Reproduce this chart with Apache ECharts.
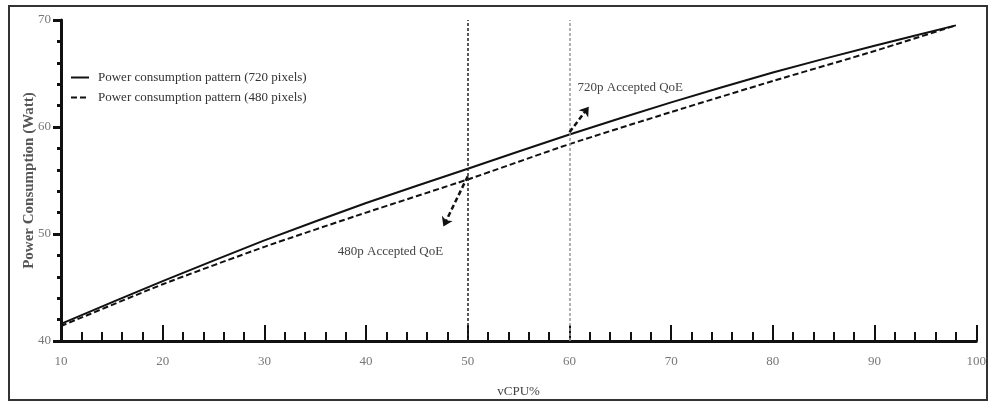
<!DOCTYPE html>
<html>
<head>
<meta charset="utf-8">
<script src="https://cdn.jsdelivr.net/npm/echarts@6/dist/echarts.min.js"></script>
<style>html,body{margin:0;padding:0;background:#fff}#c{width:989px;height:403px}</style>
</head>
<body>
<div id="c"></div>
<script>
// Data
const xValues = [10, 20, 30, 40, 50, 60, 70, 80, 90, 98];
const power720 = [41.6, 45.6, 49.4, 52.9, 56.1, 59.3, 62.3, 65.1, 67.6, 69.5];
const power480 = [41.4, 45.3, 48.8, 52.0, 55.1, 58.4, 61.4, 64.3, 67.1, 69.5];
const seriesNames = ['Power consumption pattern (720 pixels)', 'Power consumption pattern (480 pixels)'];
const qoeLines = [50, 60];
// annotation arrows: [from, to] in data coords
const arrow480 = [[50, 55.4], [47.6, 50.7]];
const arrow720 = [[60, 59.5], [61.9, 61.9]];
const label480 = {text: '480p Accepted QoE', at: [42.4, 48.4]};
const label720 = {text: '720p Accepted QoE', at: [60.8, 63.7]};

const FONT = 'Liberation Serif';
const chart = echarts.init(document.getElementById('c'), null, {renderer: 'canvas'});

const option = {
  animation: false,
  backgroundColor: '#fff',
  textStyle: {fontFamily: FONT},
  grid: {left: 61, right: 11, top: 20, bottom: 62, containLabel: false},
  legend: {
    orient: 'vertical', left: 65, top: 66,
    itemWidth: 18, itemHeight: 12, itemGap: 7,
    itemStyle: {opacity: 0},
    textStyle: {fontFamily: FONT, fontSize: 13, color: '#333', padding: [0, 0, 0, 4]},
    data: seriesNames
  },
  xAxis: {
    type: 'value', min: 10, max: 100, interval: 10,
    name: 'vCPU%', nameLocation: 'middle', nameGap: 44,
    nameTextStyle: {fontFamily: FONT, fontSize: 13, color: '#444'},
    axisLine: {lineStyle: {color: '#111', width: 3}},
    axisTick: {inside: true, length: 16, lineStyle: {color: '#111', width: 2}},
    minorTick: {show: true, splitNumber: 5, length: 9, lineStyle: {color: '#111', width: 2}},
    axisLabel: {fontFamily: FONT, fontSize: 13, color: '#777', margin: 14},
    splitLine: {show: false}
  },
  yAxis: {
    type: 'value', min: 40, max: 70, interval: 10,
    name: 'Power Consumption (Watt)', nameLocation: 'middle', nameGap: 24,
    nameMoveOverlap: false,
    nameTextStyle: {fontFamily: FONT, fontSize: 15, fontWeight: 'bold', color: '#555'},
    axisLine: {show: true, lineStyle: {color: '#111', width: 3}},
    axisTick: {show: true, length: 8, lineStyle: {color: '#111', width: 3}},
    minorTick: {show: true, splitNumber: 5, length: 4, lineStyle: {color: '#111', width: 3}},
    axisLabel: {fontFamily: FONT, fontSize: 13, color: '#777', margin: 10},
    splitLine: {show: false}
  },
  series: [
    {
      name: seriesNames[0], type: 'line', showSymbol: false, symbol: 'none', smooth: 0.2,
      data: xValues.map((x, i) => [x, power720[i]]),
      lineStyle: {color: '#111', width: 2},
      itemStyle: {color: '#111'},
      markLine: {
        silent: true, symbol: ['none', 'none'], label: {show: false},
        data: [
          {xAxis: qoeLines[0], lineStyle: {color: '#222', type: [3, 2], width: 1.5}},
          {xAxis: qoeLines[1], lineStyle: {color: '#999', type: [3, 2], width: 1.5}}
        ]
      }
    },
    {
      name: seriesNames[1], type: 'line', showSymbol: false, symbol: 'none', smooth: 0.2,
      data: xValues.map((x, i) => [x, power480[i]]),
      lineStyle: {color: '#111', width: 2, type: [6, 3]},
      itemStyle: {color: '#111'},
      markLine: {
        silent: true, symbol: ['none', 'arrow'], symbolSize: 9, label: {show: false},
        lineStyle: {color: '#111', width: 2.5, type: [5, 3]},
        data: [
          [{coord: arrow480[0]}, {coord: arrow480[1]}],
          [{coord: arrow720[0]}, {coord: arrow720[1]}]
        ]
      }
    }
  ]
};
chart.setOption(option);

const p480 = chart.convertToPixel({gridIndex: 0}, label480.at);
const p720 = chart.convertToPixel({gridIndex: 0}, label720.at);
chart.setOption({
  graphic: [
    {type: 'rect', silent: true, z: 100,
     shape: {x: 9, y: 6, width: 978, height: 394},
     style: {fill: 'none', stroke: '#333', lineWidth: 2}},
    {type: 'text', silent: true, x: p480[0], y: p480[1],
     style: {text: label480.text, font: '13px "Liberation Serif"', fill: '#444', align: 'center', verticalAlign: 'middle'}},
    {type: 'text', silent: true, x: p720[0], y: p720[1],
     style: {text: label720.text, font: '13px "Liberation Serif"', fill: '#444', align: 'left', verticalAlign: 'middle'}}
  ]
});
</script>
</body>
</html>
